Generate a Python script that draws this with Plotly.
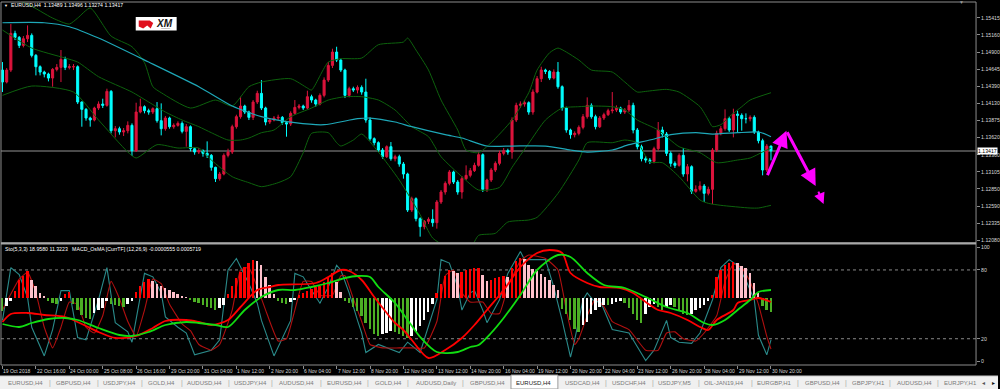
import plotly.graph_objects as go

# ---------------- DATA ----------------
SYMBOL_HEADER = "EURUSD,H4  1.13489 1.13496 1.13274 1.13417"
SUB_HEADER = "Sto(5,3,3) 18.9580 11.3223   MACD_OsMA [CurrTF] (12,26,9) -0.0000555 0.0005719"
LAST_PRICE = 1.13417
FIRST_OPEN = 1.1463

close = [
    1.1445, 1.1463, 1.1518, 1.1512, 1.1500, 1.1510, 1.1515, 1.1485, 1.1468, 1.1460,
    1.1457, 1.1451, 1.1464, 1.1467, 1.1479, 1.1467, 1.1468, 1.1468, 1.1415, 1.1404,
    1.1391, 1.1388, 1.1406, 1.1412, 1.1410, 1.1431, 1.1372, 1.1375, 1.1370, 1.1372,
    1.1380, 1.1342, 1.1400, 1.1408, 1.1402, 1.1400, 1.1405, 1.1387, 1.1375, 1.1391,
    1.1378, 1.1380, 1.1383, 1.1371, 1.1378, 1.1345, 1.1340, 1.1342, 1.1338, 1.1335,
    1.1317, 1.1300, 1.1307, 1.1335, 1.1340, 1.1378, 1.1393, 1.1409, 1.1400, 1.1392,
    1.1415, 1.1428, 1.1406, 1.1385, 1.1388, 1.1391, 1.1392, 1.1384, 1.1382, 1.1398,
    1.1407, 1.1409, 1.1406, 1.1423, 1.1418, 1.1412, 1.1425, 1.1448, 1.1470, 1.1490,
    1.1478, 1.1463, 1.1425, 1.1435, 1.1433, 1.1437, 1.1430, 1.1388, 1.1360, 1.1354,
    1.1343, 1.1333, 1.1348, 1.1330, 1.1333, 1.1322, 1.1307, 1.1253, 1.1270, 1.1240,
    1.1228, 1.1236, 1.1239, 1.1234, 1.1265, 1.1280, 1.1293, 1.1310, 1.1295, 1.1280,
    1.1300, 1.1305, 1.1312, 1.1320, 1.1336, 1.1284, 1.1298, 1.1313, 1.1323, 1.1338,
    1.1342, 1.1340, 1.1388, 1.1410, 1.1412, 1.1414, 1.1400, 1.1430, 1.1450, 1.1463,
    1.1461, 1.1451, 1.1460, 1.1438, 1.1406, 1.1373, 1.1366, 1.1368, 1.1377, 1.1393,
    1.1410, 1.1393, 1.1378, 1.1391, 1.1396, 1.1402, 1.1403, 1.1406, 1.1400, 1.1403,
    1.1410, 1.1373, 1.1348, 1.1330, 1.1328, 1.1326, 1.1345, 1.1373, 1.1367, 1.1338,
    1.1323, 1.1320, 1.1335, 1.1307, 1.1318, 1.1281, 1.1284, 1.1289, 1.1278, 1.1284,
    1.1343, 1.1368, 1.1375, 1.1390, 1.1373, 1.1397, 1.1395, 1.1390, 1.1390, 1.1392,
    1.1370, 1.1357, 1.1313, 1.13489, 1.13417]

high = [
    1.1475, 1.1466, 1.1532, 1.1522, 1.1514, 1.1514, 1.1530, 1.1518, 1.1487, 1.1470,
    1.1462, 1.1459, 1.1466, 1.1472, 1.1493, 1.1483, 1.1472, 1.1472, 1.1470, 1.1416,
    1.1406, 1.1393, 1.1408, 1.1416, 1.1420, 1.1435, 1.1433, 1.1379, 1.1378, 1.1376,
    1.1386, 1.1383, 1.1414, 1.1420, 1.1410, 1.1405, 1.1407, 1.1415, 1.1413, 1.1394,
    1.1393, 1.1383, 1.1386, 1.1386, 1.1382, 1.1380, 1.1347, 1.1346, 1.1344, 1.1356,
    1.1337, 1.1318, 1.1310, 1.1338, 1.1345, 1.1381, 1.1396, 1.1423, 1.1411, 1.1402,
    1.1418, 1.1432, 1.1448, 1.1408, 1.1391, 1.1394, 1.1396, 1.1394, 1.1386, 1.1401,
    1.1418, 1.1412, 1.1411, 1.1432, 1.1426, 1.1420, 1.1428, 1.1452, 1.1475, 1.1495,
    1.1498, 1.1480, 1.1465, 1.1438, 1.1438, 1.1440, 1.1440, 1.1450, 1.1392, 1.1362,
    1.1356, 1.1346, 1.1350, 1.1355, 1.1336, 1.1336, 1.1325, 1.1309, 1.1273, 1.1272,
    1.1242, 1.1238, 1.1242, 1.1254, 1.1268, 1.1283, 1.1296, 1.1313, 1.1312, 1.1298,
    1.1304, 1.1320, 1.1316, 1.1324, 1.1340, 1.1338, 1.1300, 1.1316, 1.1326, 1.1342,
    1.1346, 1.1345, 1.1392, 1.1414, 1.1416, 1.1418, 1.1416, 1.1434, 1.1454, 1.1468,
    1.1465, 1.1463, 1.1464, 1.1475, 1.1440, 1.1408, 1.1375, 1.1371, 1.1380, 1.1397,
    1.1422, 1.1413, 1.1396, 1.1394, 1.1399, 1.1405, 1.1430, 1.1410, 1.1408, 1.1406,
    1.1418, 1.1414, 1.1376, 1.1351, 1.1334, 1.1331, 1.1348, 1.1385, 1.1378, 1.1370,
    1.1341, 1.1326, 1.1338, 1.1346, 1.1322, 1.1320, 1.1290, 1.1296, 1.1292, 1.1288,
    1.1346, 1.1372, 1.1379, 1.1404, 1.1393, 1.1405, 1.1402, 1.1398, 1.1398, 1.1395,
    1.1395, 1.1372, 1.1360, 1.1352, 1.13496]

low = [
    1.1430, 1.1443, 1.1460, 1.1508, 1.1496, 1.1497, 1.1505, 1.1482, 1.1455, 1.1455,
    1.1452, 1.1446, 1.1438, 1.1461, 1.1445, 1.1463, 1.1464, 1.1463, 1.1412, 1.1378,
    1.1387, 1.1378, 1.1386, 1.1403, 1.1406, 1.1408, 1.1368, 1.1362, 1.1366, 1.1364,
    1.1368, 1.1334, 1.1340, 1.1398, 1.1398, 1.1396, 1.1397, 1.1384, 1.1365, 1.1372,
    1.1375, 1.1375, 1.1378, 1.1368, 1.1348, 1.1341, 1.1336, 1.1337, 1.1333, 1.1331,
    1.1312, 1.1295, 1.1297, 1.1305, 1.1332, 1.1337, 1.1375, 1.1390, 1.1397, 1.1388,
    1.1388, 1.1412, 1.1403, 1.1380, 1.1382, 1.1386, 1.1388, 1.1381, 1.1363, 1.1379,
    1.1396, 1.1404, 1.1403, 1.1404, 1.1414, 1.1408, 1.1410, 1.1422, 1.1445, 1.1466,
    1.1475, 1.1460, 1.1421, 1.1422, 1.1430, 1.1428, 1.1426, 1.1384, 1.1357, 1.1350,
    1.1340, 1.1330, 1.1331, 1.1327, 1.1326, 1.1318, 1.1300, 1.1250, 1.1250, 1.1236,
    1.1213, 1.1224, 1.1232, 1.1228, 1.1225, 1.1262, 1.1276, 1.1290, 1.1292, 1.1276,
    1.1270, 1.1298, 1.1302, 1.1310, 1.1318, 1.1280, 1.1280, 1.1295, 1.1310, 1.1320,
    1.1335, 1.1336, 1.1330, 1.1385, 1.1406, 1.1408, 1.1396, 1.1396, 1.1428, 1.1445,
    1.1457, 1.1448, 1.1449, 1.1435, 1.1402, 1.1369, 1.1360, 1.1362, 1.1365, 1.1374,
    1.1390, 1.1390, 1.1374, 1.1376, 1.1388, 1.1394, 1.1398, 1.1400, 1.1397, 1.1397,
    1.1400, 1.1368, 1.1344, 1.1326, 1.1324, 1.1322, 1.1323, 1.1342, 1.1362, 1.1334,
    1.1318, 1.1316, 1.1318, 1.1303, 1.1296, 1.1277, 1.1279, 1.1281, 1.1265, 1.1275,
    1.1262, 1.1340, 1.1365, 1.1372, 1.1370, 1.1362, 1.1370, 1.1372, 1.1383, 1.1386,
    1.1367, 1.1353, 1.1305, 1.1310, 1.13274]

# moving average (cyan), sampled at bars
ma_bar = [0, 10, 16, 23, 35, 47, 55, 62, 70, 77, 85, 88, 94, 98, 106, 110, 116, 122, 130, 136,
          140, 146, 150, 155, 160, 166, 170, 176, 181, 183, 184]
ma_val = [1.1534, 1.1534, 1.1528, 1.1511, 1.1475, 1.1438, 1.1409, 1.1393, 1.1384, 1.1381,
          1.1390, 1.1391, 1.1385, 1.1378, 1.1366, 1.1361, 1.1349, 1.1349, 1.1349, 1.1343,
          1.1340, 1.1343, 1.1351, 1.1358, 1.1366, 1.1369, 1.1367, 1.1369, 1.1370, 1.1366, 1.1363]

# Bollinger bands (dark green)
bb_up_bar = [0, 6, 12, 16, 18, 21, 26, 31, 34, 36, 38, 45, 51, 55, 59, 62, 69, 73, 74, 78,
             81, 86, 90, 96, 97, 99, 102, 105, 109, 111, 114, 117, 122, 126, 128, 131, 133, 135, 138, 141,
             146, 149, 152, 154, 159, 162, 167, 169, 170, 172, 174, 177, 179, 184]
bb_up_val = [1.1575, 1.1562, 1.1541, 1.1532, 1.1541, 1.1556, 1.1514, 1.1498, 1.1474, 1.1438,
             1.1429, 1.1406, 1.1418, 1.1409, 1.1438, 1.1445, 1.1450, 1.1436, 1.1433, 1.1475,
             1.1480, 1.1481, 1.1501, 1.1505, 1.1511, 1.1493, 1.1463, 1.1418, 1.1373, 1.1343,
             1.1339, 1.1354, 1.1388, 1.1429, 1.1463, 1.1489, 1.1496, 1.1490, 1.1478, 1.1463,
             1.1460, 1.1445, 1.1430, 1.1431, 1.1434, 1.1430, 1.1408, 1.1388, 1.1378, 1.1381,
             1.1393, 1.1408, 1.1418, 1.1429]
bb_mid_bar = [0, 7, 15, 18, 23, 31, 35, 39, 43, 47, 50, 54, 57, 59, 62, 65, 69, 74, 78, 82,
              86, 90, 94, 98, 102, 105, 110, 114, 119, 122, 126, 130, 134, 138, 141, 146, 149, 152, 157, 162,
              167, 171, 176, 179, 182, 184]
bb_mid_val = [1.1523, 1.1496, 1.1481, 1.1475, 1.1453, 1.1430, 1.1415, 1.1400, 1.1388, 1.1378,
              1.1369, 1.1358, 1.1358, 1.1361, 1.1369, 1.1373, 1.1393, 1.1406, 1.1418, 1.1423,
              1.1423, 1.1418, 1.1403, 1.1378, 1.1363, 1.1333, 1.1303, 1.1283, 1.1287, 1.1317,
              1.1353, 1.1388, 1.1406, 1.1408, 1.1409, 1.1408, 1.1403, 1.1388, 1.1373, 1.1348,
              1.1339, 1.1324, 1.1328, 1.1331, 1.1340, 1.1346]
bb_low_bar = [0, 7, 17, 23, 30, 32, 37, 42, 47, 50, 55, 59, 62, 66, 69, 72, 74, 78, 80, 81,
              84, 86, 90, 95, 100, 103, 107, 112, 114, 118, 121, 126, 128, 133, 138, 140, 146, 149, 152, 155,
              158, 162, 167, 169, 172, 179, 181, 184]
bb_low_val = [1.1425, 1.1439, 1.1430, 1.1388, 1.1340, 1.1331, 1.1351, 1.1346, 1.1346, 1.1328,
              1.1303, 1.1294, 1.1288, 1.1294, 1.1303, 1.1339, 1.1368, 1.1369, 1.1354, 1.1349,
              1.1358, 1.1367, 1.1340, 1.1298, 1.1246, 1.1211, 1.1196, 1.1196, 1.1215, 1.1218,
              1.1235, 1.1238, 1.1242, 1.1278, 1.1328, 1.1354, 1.1354, 1.1358, 1.1354, 1.1325,
              1.1324, 1.1303, 1.1268, 1.1263, 1.1260, 1.1256, 1.1256, 1.1260]

# Stochastic (5,3,3)
sto_main_bar = [0, 2, 4, 6, 7, 10, 12, 14, 16, 18, 20, 23, 25, 26, 27, 30, 31, 34, 36, 38,
                39, 42, 44, 46, 50, 52, 54, 56, 59, 61, 62, 65, 69, 70, 72, 73, 76, 78, 80, 81,
                83, 85, 86, 87, 90, 95, 97, 100, 104, 105, 107, 109, 110, 112, 113, 115, 116, 119, 121, 124,
                125, 130, 132, 134, 136, 137, 139, 140, 142, 143, 146, 150, 154, 156, 159, 160, 162, 165, 167, 170,
                172, 174, 176, 178, 180, 181, 183, 184]
sto_main_val = [36, 82, 76, 56, 30, 5, 28, 62, 62, 21, 19, 54, 82, 60, 34, 26, 17, 77, 74, 60,
                39, 30, 25, 6, 10, 19, 80, 90, 68, 51, 36, 5, 36, 77, 74, 68, 51, 65, 84, 80,
                60, 36, 25, 8, 15, 8, 17, 8, 54, 89, 86, 65, 45, 60, 62, 45, 34, 54, 77, 96,
                89, 89, 65, 36, 4, 19, 54, 60, 51, 54, 28, 25, 1, 10, 36, 21, 17, 16, 25, 54,
                82, 89, 84, 71, 54, 23, 6, 19]
sto_sig_bar = [0, 4, 6, 8, 10, 12, 14, 16, 18, 20, 22, 24, 26, 28, 30, 32, 34, 36, 38, 40,
               43, 45, 47, 50, 52, 55, 57, 59, 61, 63, 66, 68, 70, 72, 74, 76, 79, 81, 82, 84,
               86, 88, 91, 95, 98, 101, 104, 106, 108, 110, 112, 115, 117, 119, 121, 124, 126, 130, 133, 135,
               137, 138, 140, 142, 144, 146, 150, 154, 157, 159, 161, 163, 166, 168, 171, 173, 175, 177, 179, 181,
               183, 184]
sto_sig_val = [45, 72, 78, 60, 30, 12, 30, 52, 50, 30, 25, 40, 70, 55, 35, 22, 45, 72, 68, 50,
               33, 27, 15, 10, 15, 45, 80, 82, 65, 45, 18, 20, 45, 70, 70, 58, 58, 75, 75, 55,
               35, 15, 12, 12, 12, 12, 35, 75, 80, 60, 52, 52, 42, 42, 65, 88, 93, 90, 80, 45,
               15, 20, 40, 55, 48, 35, 28, 10, 10, 25, 26, 20, 18, 25, 40, 70, 85, 82, 70, 50,
               22, 11]

# MACD_OsMA (values in units of 1e-5)
osma = [
    -13, -8, -3, 7, 18, 22, 27, 18, 12, 5,
    2, -3, -5, -6, -3, 4, 6, -6, -12, -17,
    -20, -21, -15, -12, -10, -3, -6, -7, -8, -9,
    -6, -3, 6, 12, 16, 19, 17, 14, 12, 10,
    8, 6, 4, 2, 1, -2, -4, -5, -7, -9,
    -10, -12, -10, -7, 4, 12, 20, 26, 31, 35,
    38, 37, 33, 21, 13, 4, -3, -5, -6, -4,
    -2, 3, 5, 7, 9, 11, 12, 16, 21, 25,
    16, 6, -3, -5, -9, -13, -18, -25, -31, -36,
    -38, -36, -35, -33, -34, -36, -38, -40, -38, -34,
    -28, -22, -14, -6, 5, 14, 22, 28, 27, 25,
    26, 28, 29, 30, 30, 23, 17, 18, 20, 21,
    22, 21, 30, 37, 40, 39, 33, 29, 27, 24,
    21, 18, 13, 8, -11, -16, -22, -31, -34, -27,
    -24, -16, -12, -9, -7, -7, -6, -4, -3, -5,
    -10, -16, -22, -25, -16, -9, -6, -9, -12, -9,
    -7, -9, -13, -16, -17, -16, -12, -10, -7, -3,
    3, 21, 28, 33, 35, 36, 35, 32, 30, 25,
    15, 5, -8, -12, -14]
macd_bar = [0, 2, 6, 10, 15, 20, 23, 27, 32, 36, 39, 44, 47, 50, 54, 57, 61, 64, 66, 75,
            78, 81, 83, 86, 89, 92, 94, 96, 98, 102, 106, 110, 113, 116, 120, 124, 128, 131, 134, 136,
            140, 143, 148, 151, 154, 157, 160, 164, 167, 169, 171, 175, 176, 179, 181, 184]
macd_val = [-24, -16, -15, -17, -19, -28, -34, -40, -38, -30, -23, -22, -24, -27, -22, -9, 8, 11, 13, 15,
            21, 28, 27, 18, 1, -15, -25, -32, -42, -60, -52, -40, -27, -12, 8, 31, 45, 48, 45, 25,
            15, 11, 10, 5, -4, -12, -15, -22, -29, -32, -22, -12, -5, -2, 0, -4]
signal_bar = [0, 4, 7, 11, 15, 18, 23, 28, 31, 35, 39, 44, 47, 51, 54, 58, 62, 66, 70, 74,
              78, 82, 85, 88, 90, 94, 97, 100, 104, 109, 112, 114, 117, 120, 124, 128, 133, 136, 140, 144,
              149, 154, 159, 164, 168, 170, 173, 176, 179, 181, 184]
signal_val = [-26, -29, -25, -21, -20, -22, -30, -37, -38, -34, -27, -24, -25, -27, -29, -12, 1, 8, 8, 11,
              15, 20, 22, 21, 11, -5, -22, -39, -54, -54, -49, -47, -35, -20, 3, 28, 43, 41, 25, 13,
              10, 1, -9, -15, -25, -27, -22, -12, -2, 6, 8]

# hand-drawn magenta arrows (bar, price)
arrow_tail_bar = [183.0, 187.7, 195.2]
arrow_tail_price = [1.1303, 1.1372, 1.1283]
arrow_head_bar = [187.7, 194.7, 196.6]
arrow_head_price = [1.1372, 1.1289, 1.1262]
arrow_width = [3.0, 3.0, 2.0]

price_ticks = [1.15415, 1.15160, 1.14900, 1.14645, 1.14390, 1.14130, 1.13875, 1.13620,
               1.13360, 1.13105, 1.12850, 1.12590, 1.12335, 1.12080]
price_tick_text = ["1.15415", "1.15160", "1.14900", "1.14645", "1.14390", "1.14130", "1.13875",
                   "1.13620", "1.13360", "1.13105", "1.12850", "1.12590", "1.12335", "1.12080"]
sto_ticks = [0, 20, 80, 100]

time_labels = ["19 Oct 2018", "22 Oct 16:00", "24 Oct 00:00", "25 Oct 08:00", "26 Oct 16:00",
               "29 Oct 20:00", "31 Oct 04:00", "1 Nov 12:00", "2 Nov 20:00", "6 Nov 04:00",
               "7 Nov 12:00", "8 Nov 20:00", "12 Nov 04:00", "13 Nov 12:00", "14 Nov 20:00",
               "16 Nov 04:00", "19 Nov 12:00", "20 Nov 20:00", "22 Nov 04:00", "23 Nov 12:00",
               "26 Nov 20:00", "28 Nov 04:00", "29 Nov 12:00", "30 Nov 20:00"]
time_label_bars = [8 * k for k in range(len(time_labels))]

tabs = ["EURUSD,H4", "GBPUSD,H4", "USDJPY,H4", "GOLD,H4", "AUDUSD,H4", "USDJPY,H4", "AUDUSD,H4",
        "EURUSD,H4", "GOLD,H4", "AUDUSD,Daily", "GBPUSD,H4", "EURUSD,H4", "USDCAD,H4", "USDCHF,H4",
        "USDJPY,M5", "OIL-JAN19,H4", "EURGBP,H1", "GBPUSD,H4", "GBPJPY,H1", "AUDUSD,H4", "EURJPY,H1"]
ACTIVE_TAB = 11

# ---------------- LAYOUT CONSTANTS (pixels) ----------------
W, H = 1000, 389
X_LEFT, X_RIGHT = 1, 978
MAIN_TOP, MAIN_BOT = 2, 243
SUB_TOP, SUB_BOT = 243, 365
tab_centers = [25.5, 73.5, 119.5, 161.5, 205, 251.5, 297, 345.5, 389, 436.5, 488, 535, 584,
               630.5, 676.5, 725.5, 776.5, 824, 870, 916, 962]
tab_separators = [50, 98, 142, 182, 229, 273, 322, 369, 409, 464, 607, 654, 700, 754, 800,
                  848, 892, 940]


def px(x):
    return x / W


def py(y):
    return 1 - y / H


FONT = "Liberation Sans"
TXT = "#d8d8d8"
GRID = "#8c8c8c"

bars = list(range(len(close)))
opens = [FIRST_OPEN] + close[:-1]

# histogram colors by direction
hist_colors = []
for k, v in enumerate(osma):
    prev = osma[k - 1] if k > 0 else v
    if v >= 0:
        hist_colors.append("#ff0000" if v >= prev else "#ffc0cb")
    else:
        hist_colors.append("#4caf24" if v <= prev else "#ffffff")

fig = go.Figure()

BB = "#0d620d"
for bx, by in [(bb_up_bar, bb_up_val), (bb_mid_bar, bb_mid_val), (bb_low_bar, bb_low_val)]:
    fig.add_trace(go.Scatter(x=bx, y=by, mode="lines", hoverinfo="skip",
                             line=dict(color=BB, width=1, shape="spline", smoothing=0.6)))
fig.add_trace(go.Scatter(x=ma_bar, y=ma_val, mode="lines", hoverinfo="skip",
                         line=dict(color="#1ea8b8", width=1.2, shape="spline", smoothing=0.6)))

fig.add_trace(go.Candlestick(
    x=bars, open=opens, high=high, low=low, close=close,
    increasing=dict(line=dict(color="#dc143c", width=1), fillcolor="#dc143c"),
    decreasing=dict(line=dict(color="#00ffff", width=1), fillcolor="#00ffff"),
    whiskerwidth=0, hoverinfo="skip"))

# lower panel
fig.add_trace(go.Bar(x=bars, y=osma, marker=dict(color=hist_colors, line=dict(width=0)),
                     width=0.45, yaxis="y3", hoverinfo="skip"))
fig.add_trace(go.Scatter(x=sto_main_bar, y=sto_main_val, mode="lines", yaxis="y2", hoverinfo="skip",
                         line=dict(color="#2a8a8a", width=1.1)))
fig.add_trace(go.Scatter(x=sto_sig_bar, y=sto_sig_val, mode="lines", yaxis="y2", hoverinfo="skip",
                         line=dict(color="#b01010", width=1.1, shape="spline", smoothing=0.4)))
fig.add_trace(go.Scatter(x=macd_bar, y=macd_val, mode="lines", yaxis="y3", hoverinfo="skip",
                         line=dict(color="#ff0000", width=1.8, shape="spline", smoothing=0.8)))
fig.add_trace(go.Scatter(x=signal_bar, y=signal_val, mode="lines", yaxis="y3", hoverinfo="skip",
                         line=dict(color="#11dd11", width=1.8, shape="spline", smoothing=0.8)))

shapes = []
# frames
shapes.append(dict(type="rect", xref="paper", yref="paper", x0=px(X_LEFT), x1=px(X_RIGHT),
                   y0=py(MAIN_BOT), y1=py(MAIN_TOP), line=dict(color=GRID, width=1), layer="above"))
shapes.append(dict(type="rect", xref="paper", yref="paper", x0=px(X_LEFT), x1=px(X_RIGHT),
                   y0=py(SUB_BOT), y1=py(SUB_TOP), line=dict(color=GRID, width=1), layer="above"))
shapes.append(dict(type="line", xref="paper", yref="paper", x0=px(X_LEFT), x1=px(X_RIGHT),
                   y0=py(243.5), y1=py(243.5), line=dict(color="#a8a8a8", width=2), layer="above"))
# bid line
shapes.append(dict(type="line", xref="paper", yref="y", x0=px(X_LEFT), x1=px(X_RIGHT),
                   y0=LAST_PRICE, y1=LAST_PRICE, line=dict(color="#4a4a4a", width=2), layer="below"))
# stochastic levels
for lvl in (20, 80):
    shapes.append(dict(type="line", xref="paper", yref="y2", x0=px(X_LEFT), x1=px(X_RIGHT),
                       y0=lvl, y1=lvl, line=dict(color="#8a8a8a", width=1, dash="dot"), layer="below"))
# tab bar
shapes.append(dict(type="rect", xref="paper", yref="paper", x0=0, x1=1, y0=0, y1=py(376),
                   fillcolor="#f0f0f0", line=dict(width=0)))
shapes.append(dict(type="line", xref="paper", yref="paper", x0=0, x1=1, y0=py(376), y1=py(376),
                   line=dict(color="#c8c8c8", width=1)))
shapes.append(dict(type="rect", xref="paper", yref="paper", x0=px(512), x1=px(559), y0=0, y1=py(375),
                   fillcolor="#ffffff", line=dict(color="#9a9a9a", width=1)))
# XM logo
shapes.append(dict(type="rect", xref="paper", yref="paper", x0=px(136), x1=px(177), y0=py(30.5), y1=py(17),
                   fillcolor="#ffffff", line=dict(width=0)))
logo_pts = [(139, 20.5), (150, 20.5), (153.5, 23), (151, 28.5), (147.5, 25.5), (143.5, 28.5), (139, 26.5)]
path = "M " + " L ".join(f"{px(a):.5f},{py(b):.5f}" for a, b in logo_pts) + " Z"
shapes.append(dict(type="path", xref="paper", yref="paper", path=path, fillcolor="#e0101e",
                   line=dict(width=0)))

annotations = []
annotations.append(dict(xref="paper", yref="paper", x=px(2), y=py(5.5), text="▼", showarrow=False,
                        xanchor="left", yanchor="middle", font=dict(family=FONT, size=4, color="#ffffff")))
annotations.append(dict(xref="paper", yref="paper", x=px(9), y=py(5.5), text=SYMBOL_HEADER, showarrow=False,
                        xanchor="left", yanchor="middle", font=dict(family=FONT, size=5.2, color="#ffffff")))
annotations.append(dict(xref="paper", yref="paper", x=px(3), y=py(249.5), text=SUB_HEADER, showarrow=False,
                        xanchor="left", yanchor="middle", font=dict(family=FONT, size=5.2, color="#ffffff")))
annotations.append(dict(xref="paper", yref="paper", x=px(963), y=py(2), text="▼", showarrow=False,
                        xanchor="center", yanchor="middle", font=dict(family=FONT, size=5, color="#9a9a9a")))
annotations.append(dict(xref="paper", yref="paper", x=px(164.5), y=py(23), text="<b><i>XM</i></b>",
                        showarrow=False, xanchor="center", yanchor="middle",
                        font=dict(family=FONT, size=10, color="#111111")))
annotations.append(dict(xref="paper", yref="paper", x=px(166), y=py(28.8), text="GROUP",
                        showarrow=False, xanchor="center", yanchor="middle",
                        font=dict(family=FONT, size=2.5, color="#666666")))
# current price box
annotations.append(dict(xref="paper", yref="y", x=px(979), y=LAST_PRICE, text="1.13417", showarrow=False,
                        xanchor="left", yanchor="middle", bgcolor="#ffffff", borderpad=0,
                        font=dict(family=FONT, size=5.2, color="#000000")))
# time labels
for b, t in zip(time_label_bars, time_labels):
    annotations.append(dict(xref="x", yref="paper", x=b, y=py(370.5), text=t, showarrow=False,
                            xanchor="left", yanchor="middle", xshift=-1,
                            font=dict(family=FONT, size=5, color=TXT)))
# tabs
for k, (t, cx) in enumerate(zip(tabs, tab_centers)):
    annotations.append(dict(xref="paper", yref="paper", x=px(cx), y=py(382.5), text=t, showarrow=False,
                            xanchor="center", yanchor="middle",
                            font=dict(family=FONT, size=6,
                                      color="#202020" if k == ACTIVE_TAB else "#7a7a7a")))
for sx in tab_separators:
    annotations.append(dict(xref="paper", yref="paper", x=px(sx), y=py(382.5), text="|", showarrow=False,
                            xanchor="center", yanchor="middle",
                            font=dict(family=FONT, size=7, color="#a8a8a8")))
annotations.append(dict(xref="paper", yref="paper", x=px(985), y=py(382.5), text="◂", showarrow=False,
                        xanchor="center", yanchor="middle", font=dict(family=FONT, size=6, color="#555555")))
annotations.append(dict(xref="paper", yref="paper", x=px(995), y=py(382.5), text="▸", showarrow=False,
                        xanchor="center", yanchor="middle", font=dict(family=FONT, size=6, color="#111111")))
# magenta arrows
for tb, tp, hb, hp, aw in zip(arrow_tail_bar, arrow_tail_price, arrow_head_bar, arrow_head_price, arrow_width):
    annotations.append(dict(xref="x", yref="y", axref="x", ayref="y", x=hb, y=hp, ax=tb, ay=tp,
                            text="", showarrow=True, arrowhead=2, arrowsize=1.1, arrowwidth=aw,
                            arrowcolor="#ff00ff"))

tickfont = dict(family=FONT, size=5.2, color=TXT)
fig.update_layout(
    width=W, height=H, margin=dict(l=0, r=0, t=0, b=0),
    paper_bgcolor="#000000", plot_bgcolor="#000000", showlegend=False, bargap=0,
    xaxis=dict(domain=[px(X_LEFT), px(X_RIGHT)], range=[-0.36, 233.1], anchor="y2",
               showgrid=False, zeroline=False, showline=False, ticks="outside", ticklen=3,
               tickcolor=GRID, tickvals=time_label_bars, showticklabels=False,
               rangeslider=dict(visible=False), fixedrange=True),
    yaxis=dict(domain=[py(MAIN_BOT), py(MAIN_TOP)], range=[1.12035, 1.15651], side="right",
               anchor="x", showgrid=False, zeroline=False, showline=False, tickvals=price_ticks,
               ticktext=price_tick_text, ticks="outside", ticklen=3, tickcolor=GRID, tickfont=tickfont),
    yaxis2=dict(domain=[py(SUB_BOT), py(SUB_TOP)], range=[-2.9, 103.5], side="right", anchor="x",
                showgrid=False, zeroline=False, showline=False, tickvals=sto_ticks,
                ticktext=[str(v) for v in sto_ticks], ticks="outside", ticklen=3, tickcolor=GRID,
                tickfont=tickfont),
    yaxis3=dict(overlaying="y2", anchor="x", range=[-67, 55], visible=False),
    shapes=shapes, annotations=annotations,
)

fig.write_html("out.html", config={"displayModeBar": False},
               post_script="document.body.style.margin='0';document.body.style.padding='0';"
                           "document.body.style.overflow='hidden';")
